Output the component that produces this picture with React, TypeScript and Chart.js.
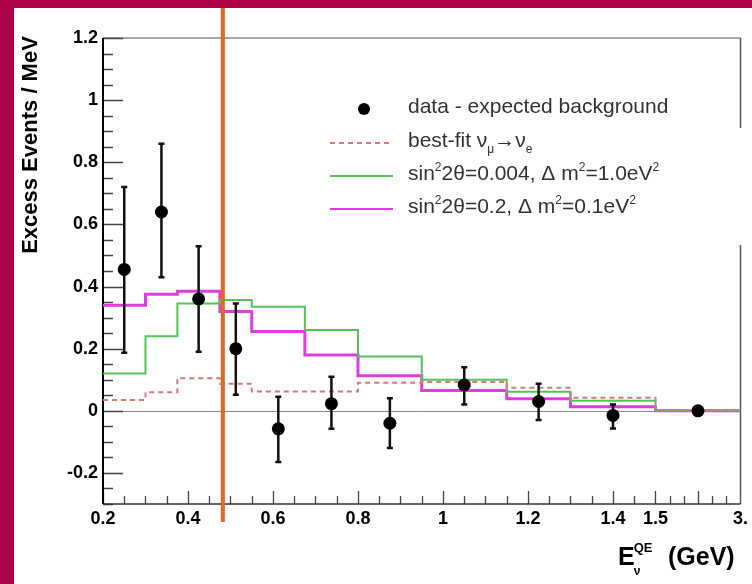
import React, { useEffect, useRef } from "react";
import { Chart, registerables } from "chart.js";

Chart.register(...registerables);

// ---- data (energies in GeV) ----
const binEdges = [0.2, 0.3, 0.375, 0.475, 0.55, 0.675, 0.8, 0.95, 1.15, 1.3, 1.5, 3.0];
const dataEnergy = [0.25, 0.3375, 0.425, 0.5125, 0.6125, 0.7375, 0.875, 1.05, 1.225, 1.4, 2.25];
const excess = [0.455, 0.64, 0.36, 0.2, -0.058, 0.023, -0.04, 0.083, 0.03, -0.015, 0.0];
const excessLow = [0.187, 0.43, 0.19, 0.052, -0.165, -0.058, -0.12, 0.02, -0.03, -0.057, 0.0];
const excessHigh = [0.72, 0.86, 0.53, 0.345, 0.045, 0.11, 0.04, 0.14, 0.087, 0.02, 0.0];
const bestFit = [0.035, 0.06, 0.105, 0.087, 0.062, 0.062, 0.09, 0.093, 0.074, 0.042, 0.002];
const greenModel = [0.12, 0.24, 0.345, 0.357, 0.335, 0.26, 0.175, 0.1, 0.061, 0.032, 0.001];
const magentaModel = [0.34, 0.375, 0.385, 0.32, 0.255, 0.18, 0.113, 0.065, 0.039, 0.013, 0.0];

const xTickValues = [0.2, 0.4, 0.6, 0.8, 1.0, 1.2, 1.4, 1.5, 3.0];
const xTickLabels = ["0.2", "0.4", "0.6", "0.8", "1", "1.2", "1.4", "1.5", "3."];
const yTickValues = [-0.2, 0, 0.2, 0.4, 0.6, 0.8, 1.0, 1.2];
const yTickLabels = ["-0.2", "0", "0.2", "0.4", "0.6", "0.8", "1", "1.2"];
const markerEnergy = 0.482;

const legendDataLabel = "data - expected background";

// ---- axis break: 1.5–3.0 GeV compressed into the last display segment ----
const BREAK = 1.5;
const END = 3.0;
const END_AXIS = 1.7;
const toAxis = (e: number) => (e <= BREAK ? e : BREAK + ((e - BREAK) * (END_AXIS - BREAK)) / (END - BREAK));

function stepPoints(vals: number[]) {
  const pts = vals.map((v, i) => ({ x: toAxis(binEdges[i]), y: v }));
  pts.push({ x: toAxis(binEdges[binEdges.length - 1]), y: vals[vals.length - 1] });
  return pts;
}

const FAMILY = '"Liberation Sans", Arial, Helvetica, sans-serif';

type Part = { t: string; sup?: boolean; sub?: boolean };

function drawRich(ctx: CanvasRenderingContext2D, x: number, y: number, parts: Part[], size: number, weight: string) {
  let cx = x;
  for (const p of parts) {
    const small = p.sup || p.sub;
    const s = small ? Math.round(size * 0.58) : size;
    ctx.font = `${weight} ${s}px ${FAMILY}`;
    const dy = p.sup ? -size * 0.42 : p.sub ? size * 0.28 : 0;
    ctx.fillText(p.t, cx, y + dy);
    cx += ctx.measureText(p.t).width;
  }
  return cx;
}

const legendRows: { kind: string; parts: Part[] }[] = [
  { kind: "dot", parts: [{ t: legendDataLabel }] },
  {
    kind: "dash",
    parts: [{ t: "best-fit ν" }, { t: "μ", sub: true }, { t: "→ν" }, { t: "e", sub: true }],
  },
  {
    kind: "green",
    parts: [{ t: "sin" }, { t: "2", sup: true }, { t: "2θ=0.004, Δ m" }, { t: "2", sup: true }, { t: "=1.0eV" }, { t: "2", sup: true }],
  },
  {
    kind: "magenta",
    parts: [{ t: "sin" }, { t: "2", sup: true }, { t: "2θ=0.2, Δ m" }, { t: "2", sup: true }, { t: "=0.1eV" }, { t: "2", sup: true }],
  },
];

const COLORS = {
  frame: "#AE0049",
  dash: "#D9777A",
  green: "#55C455",
  magenta: "#E03CE0",
  orange: "#E8661E",
};

const decor = {
  id: "decor",
  beforeDraw(chart: any) {
    const { ctx, width, height } = chart;
    ctx.save();
    ctx.fillStyle = COLORS.frame;
    ctx.fillRect(0, 0, width, height);
    ctx.fillStyle = "#ffffff";
    ctx.fillRect(14, 8, width - 14, height - 8);
    ctx.restore();
  },
  beforeDatasetsDraw(chart: any) {
    const { ctx, chartArea: a } = chart;
    const xs = chart.scales.x;
    const ys = chart.scales.y;
    ctx.save();
    // zero line
    ctx.strokeStyle = "#8a8a8a";
    ctx.lineWidth = 1;
    const y0 = Math.round(ys.getPixelForValue(0)) + 0.5;
    ctx.beginPath();
    ctx.moveTo(a.left, y0);
    ctx.lineTo(a.right, y0);
    ctx.stroke();

    // top frame
    ctx.strokeStyle = "#a8a8a8";
    ctx.lineWidth = 2;
    ctx.beginPath();
    ctx.moveTo(a.left, a.top);
    ctx.lineTo(a.right, a.top);
    ctx.stroke();
    // right frame (with gap as in the reference)
    ctx.strokeStyle = "#555";
    ctx.lineWidth = 1.5;
    ctx.beginPath();
    ctx.moveTo(a.right, a.top);
    ctx.lineTo(a.right, 128);
    ctx.moveTo(a.right, 245);
    ctx.lineTo(a.right, a.bottom);
    ctx.stroke();

    // y ticks
    ctx.strokeStyle = "#444";
    ctx.lineWidth = 1.3;
    ctx.beginPath();
    for (let k = -6; k <= 24; k++) {
      const v = k * 0.05;
      const py = Math.round(ys.getPixelForValue(v)) + 0.5;
      const major = k % 4 === 0;
      ctx.moveTo(a.left, py);
      ctx.lineTo(a.left + (major ? 20 : 10), py);
    }
    // x ticks
    for (let k = 0; k <= 26; k++) {
      const v = 0.2 + k * 0.05;
      const px = Math.round(xs.getPixelForValue(v)) + 0.5;
      const major = k % 4 === 0 || k === 26;
      ctx.moveTo(px, a.bottom);
      ctx.lineTo(px, a.bottom - (major ? 13 : 8));
    }
    for (let k = 1; k <= 5; k++) {
      const v = BREAK + (k * (END_AXIS - BREAK)) / 6;
      const px = Math.round(xs.getPixelForValue(v)) + 0.5;
      ctx.moveTo(px, a.bottom);
      ctx.lineTo(px, a.bottom - (k === 3 ? 13 : 8));
    }
    ctx.stroke();

    // axes
    ctx.strokeStyle = "#000";
    ctx.lineWidth = 2;
    ctx.beginPath();
    ctx.moveTo(a.left, a.top);
    ctx.lineTo(a.left, a.bottom);
    ctx.stroke();
    ctx.strokeStyle = "#333";
    ctx.lineWidth = 1.5;
    ctx.beginPath();
    ctx.moveTo(a.left, a.bottom);
    ctx.lineTo(a.right, a.bottom);
    ctx.stroke();
    ctx.restore();
  },
  beforeDatasetDraw(chart: any, args: any) {
    if (args.index !== 0) return;
    const { ctx } = chart;
    const xs = chart.scales.x;
    const ys = chart.scales.y;
    ctx.save();
    ctx.strokeStyle = "#111";
    ctx.lineWidth = 2.5;
    ctx.beginPath();
    dataEnergy.forEach((e, i) => {
      if (excessHigh[i] - excessLow[i] < 0.005) return;
      const px = xs.getPixelForValue(toAxis(e));
      const pt = ys.getPixelForValue(excessHigh[i]);
      const pb = ys.getPixelForValue(excessLow[i]);
      ctx.moveTo(px, pt);
      ctx.lineTo(px, pb);
      ctx.moveTo(px - 3, pt);
      ctx.lineTo(px + 3, pt);
      ctx.moveTo(px - 3, pb);
      ctx.lineTo(px + 3, pb);
    });
    ctx.stroke();
    ctx.restore();
  },
  afterDatasetsDraw(chart: any) {
    const { ctx } = chart;
    const xs = chart.scales.x;
    ctx.save();
    ctx.strokeStyle = COLORS.orange;
    ctx.lineWidth = 4;
    const px = xs.getPixelForValue(markerEnergy);
    ctx.beginPath();
    ctx.moveTo(px, 8);
    ctx.lineTo(px, 522);
    ctx.stroke();
    ctx.restore();
  },
  afterDraw(chart: any) {
    const { ctx } = chart;
    ctx.save();
    // y title
    ctx.fillStyle = "#000";
    ctx.font = `bold 22px ${FAMILY}`;
    ctx.translate(37, 145);
    ctx.rotate(-Math.PI / 2);
    ctx.textAlign = "center";
    ctx.textBaseline = "alphabetic";
    ctx.fillText("Excess Events / MeV", 0, 0);
    ctx.restore();

    // x title
    ctx.save();
    ctx.fillStyle = "#000";
    ctx.textBaseline = "alphabetic";
    ctx.textAlign = "left";
    ctx.font = `bold 25px ${FAMILY}`;
    ctx.fillText("E", 618, 565);
    const ew = ctx.measureText("E").width;
    ctx.font = `bold 13px ${FAMILY}`;
    ctx.fillText("QE", 618 + ew - 1, 552);
    ctx.font = `bold 12px ${FAMILY}`;
    ctx.fillText("ν", 618 + ew - 1, 575);
    ctx.font = `bold 25px ${FAMILY}`;
    ctx.fillText("(GeV)", 668, 565);
    ctx.restore();

    // legend
    ctx.save();
    const baselines = [113, 147, 180, 213];
    legendRows.forEach((row, i) => {
      const by = baselines[i];
      const sy = by - 4;
      if (row.kind === "dot") {
        ctx.fillStyle = "#000";
        ctx.beginPath();
        ctx.arc(364, sy, 6, 0, Math.PI * 2);
        ctx.fill();
      } else {
        ctx.beginPath();
        ctx.moveTo(330, sy);
        ctx.lineTo(393, sy);
        if (row.kind === "dash") {
          ctx.setLineDash([5, 4]);
          ctx.strokeStyle = COLORS.dash;
          ctx.lineWidth = 2;
        } else if (row.kind === "green") {
          ctx.setLineDash([]);
          ctx.strokeStyle = COLORS.green;
          ctx.lineWidth = 2;
        } else {
          ctx.setLineDash([]);
          ctx.strokeStyle = COLORS.magenta;
          ctx.lineWidth = 2;
        }
        ctx.stroke();
        ctx.setLineDash([]);
      }
      ctx.fillStyle = "#333";
      ctx.textBaseline = "alphabetic";
      ctx.textAlign = "left";
      drawRich(ctx, 408, by, row.parts, 21, "normal");
    });
    ctx.restore();
  },
};

export default function App() {
  const ref = useRef<HTMLCanvasElement | null>(null);
  useEffect(() => {
    if (!ref.current) return;
    const tickFont = { family: FAMILY, size: 18, weight: "bold" as const };
    const chart = new Chart(ref.current, {
      type: "scatter",
      data: {
        datasets: [
          {
            label: legendDataLabel,
            data: dataEnergy.map((e, i) => ({ x: toAxis(e), y: excess[i] })),
            pointRadius: 6.5,
            pointBackgroundColor: "#000",
            pointBorderWidth: 0,
            showLine: false,
          },
          {
            label: "best-fit",
            data: stepPoints(bestFit),
            showLine: true,
            stepped: "before",
            borderColor: COLORS.dash,
            borderDash: [5, 4],
            borderWidth: 2,
            pointRadius: 0,
          },
          {
            label: "sin22θ=0.004",
            data: stepPoints(greenModel),
            showLine: true,
            stepped: "before",
            borderColor: COLORS.green,
            borderWidth: 2,
            pointRadius: 0,
          },
          {
            label: "sin22θ=0.2",
            data: stepPoints(magentaModel),
            showLine: true,
            stepped: "before",
            borderColor: COLORS.magenta,
            borderWidth: 3,
            pointRadius: 0,
          },
        ],
      },
      options: {
        responsive: false,
        animation: false,
        devicePixelRatio: 1,
        layout: { padding: { left: 0, top: 38, right: 11, bottom: 0 } },
        plugins: { legend: { display: false }, tooltip: { enabled: false } },
        scales: {
          x: {
            type: "linear",
            min: 0.2,
            max: END_AXIS,
            grid: { display: false, drawTicks: false },
            border: { display: false },
            afterBuildTicks: (s: any) => {
              s.ticks = xTickValues.map((v) => ({ value: toAxis(v) }));
            },
            ticks: {
              callback: (_v: any, i: number) => xTickLabels[i],
              font: tickFont,
              color: "#000",
              padding: 4,
              maxRotation: 0,
              autoSkip: false,
            },
            afterFit: (s: any) => {
              s.height = 80;
            },
          },
          y: {
            type: "linear",
            min: -0.3,
            max: 1.2,
            grid: { display: false, drawTicks: false },
            border: { display: false },
            afterBuildTicks: (s: any) => {
              s.ticks = yTickValues.map((v) => ({ value: v }));
            },
            ticks: {
              callback: (_v: any, i: number) => yTickLabels[i],
              font: tickFont,
              color: "#000",
              padding: 5,
              autoSkip: false,
            },
            afterFit: (s: any) => {
              s.width = 103;
            },
          },
        },
      },
      plugins: [decor],
    } as any);
    return () => chart.destroy();
  }, []);
  return (
    <div style={{ position: "fixed", left: 0, top: 0, width: 752, height: 584 }}>
      <canvas ref={ref} width={752} height={584} style={{ display: "block", width: 752, height: 584 }} />
    </div>
  );
}
